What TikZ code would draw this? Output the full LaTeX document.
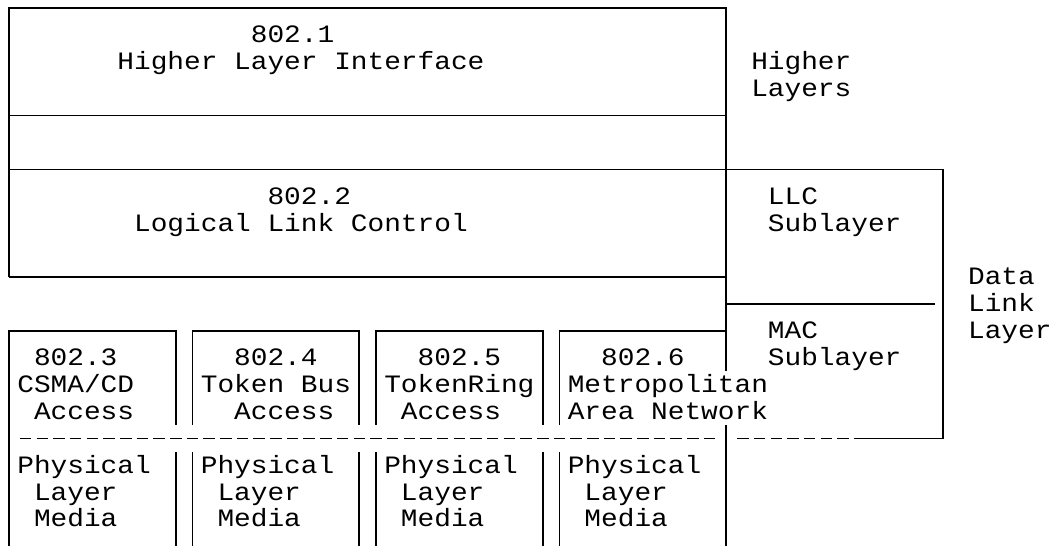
\documentclass[tikz,border=0pt]{standalone}
\usepackage{fontspec}
% terminal-style monospace face, widened so one character cell is 16.68pt
\newfontfamily\cellfont[FakeStretch=1.112]{Liberation Mono}
\tikzset{
  rule/.style={line width=1.7pt, draw=black},
  dashrule/.style={rule, dash pattern=on 11.5pt off 5.18pt},
  txt/.style={inner sep=0pt, outer sep=0pt, anchor=base west, yshift=-7.8pt,
              font=\cellfont\fontsize{25pt}{27pt}\selectfont},
}
\begin{document}
\begin{tikzpicture}[x=16.68pt, y=-26.9pt]
% one unit = one character cell (column, row)
\useasboundingbox (-9pt,8pt) rectangle (1044pt,-538pt);

% ---- 802.1 / 802.2 frames ----
\draw[rule] (0,10) -- (0,0) -- (43,0) -- (43,13.5);
\draw[rule] (0,4) -- (43,4);
\draw[rule] (0,10) -- (43,10);
\draw[rule] (43,15.5) -- (43,20);

% ---- sublayer frame on the right ----
\draw[rule] (0,6) -- (56,6) -- (56,16) -- ([xshift=5.75pt]51,16);
\draw[rule] (43,11) -- (55.5,11);

% ---- access method boxes ----
\draw[rule] (0,20) -- (0,12) -- (10,12) -- (10,15.5);
\draw[rule] (11,15.5) -- (11,12) -- (21,12) -- (21,15.5);
\draw[rule] (22,15.5) -- (22,12) -- (32,12) -- (32,15.5);
\draw[rule] (33,15.5) -- (33,12) -- (43,12);
\foreach \c in {10,11,21,22,32,33}
  \draw[rule] (\c,16.5) -- (\c,20);

% ---- MAC / physical boundary ----
\draw[dashrule] ([xshift=-5.75pt]1,16) -- ([xshift=5.75pt]42,16);
\draw[dashrule] ([xshift=-5.75pt]44,16) -- ([xshift=5.75pt]51,16);

% ---- labels ----
\node[txt] (n1a) at (14.5,1) {802.1};
\node[txt] (n1b) at (6.5,2) {Higher Layer Interface};
\node[txt] (hl1) at (44.5,2) {Higher};
\node[txt] (hl2) at (44.5,3) {Layers};

\node[txt] (n2a) at (15.5,7) {802.2};
\node[txt] (n2b) at (7.5,8) {Logical Link Control};
\node[txt] (llc1) at (45.5,7) {LLC};
\node[txt] (llc2) at (45.5,8) {Sublayer};

\node[txt] (dl1) at (57.5,10) {Data};
\node[txt] (dl2) at (57.5,11) {Link};
\node[txt] (dl3) at (57.5,12) {Layer};

\node[txt] (mac1) at (45.5,12) {MAC};
\node[txt] (mac2) at (45.5,13) {Sublayer};

\node[txt] (n3a) at (1.5,13) {802.3};
\node[txt] (n3b) at (0.5,14) {CSMA/CD};
\node[txt] (n3c) at (1.5,15) {Access};

\node[txt] (n4a) at (13.5,13) {802.4};
\node[txt] (n4b) at (11.5,14) {Token Bus};
\node[txt] (n4c) at (13.5,15) {Access};

\node[txt] (n5a) at (24.5,13) {802.5};
\node[txt] (n5b) at (22.5,14) {TokenRing};
\node[txt] (n5c) at (23.5,15) {Access};

\node[txt] (n6a) at (35.5,13) {802.6};
\node[txt] (n6b) at (33.5,14) {Metropolitan};
\node[txt] (n6c) at (33.5,15) {Area Network};

\foreach \c/\k in {0.5/a,11.5/b,22.5/c,33.5/d}{
  \node[txt] (ph1\k) at (\c,17) {Physical};
  \node[txt] (ph2\k) at (\c+1,18) {Layer};
  \node[txt] (ph3\k) at (\c+1,19) {Media};
}
\end{tikzpicture}
\end{document}
